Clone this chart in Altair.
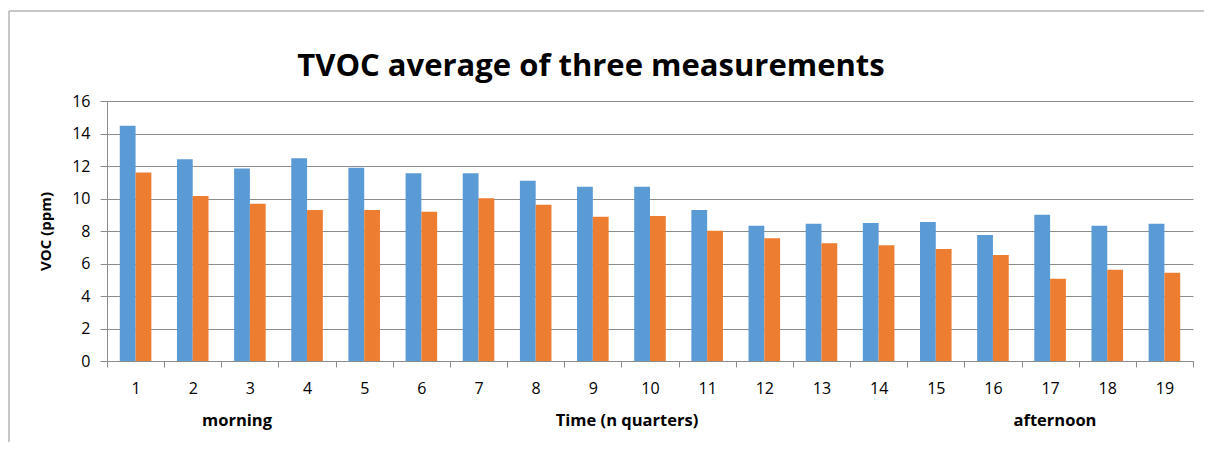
import altair as alt
import pandas as pd

categories = ["1", "2", "3", "4", "5", "6", "7", "8", "9", "10",
              "11", "12", "13", "14", "15", "16", "17", "18", "19"]
series_a = [14.47, 12.42, 11.84, 12.48, 11.90, 11.56, 11.56, 11.10, 10.72, 10.72,
            9.30, 8.32, 8.44, 8.50, 8.55, 7.75, 9.00, 8.32, 8.44]
series_b = [11.60, 10.16, 9.67, 9.30, 9.30, 9.18, 10.02, 9.61, 8.87, 8.93,
            8.01, 7.56, 7.25, 7.13, 6.89, 6.52, 5.06, 5.61, 5.43]
series_names = ["Series1", "Series2"]
series_colors = ["#5B9BD5", "#ED7D31"]
y_ticks = [0, 2, 4, 6, 8, 10, 12, 14, 16]
title_text = "TVOC average of three measurements"

rows = []
for c, a, b in zip(categories, series_a, series_b):
    rows.append({"quarter": c, "series": series_names[0], "voc": a})
    rows.append({"quarter": c, "series": series_names[1], "voc": b})
df = pd.DataFrame(rows)

FONT = "Open Sans"
GRID = "#8c8c8c"
FRAME = "#b4b4b4"

bars = alt.Chart(df).mark_bar().encode(
    x=alt.X("quarter:N", sort=categories,
            scale=alt.Scale(paddingInner=0, paddingOuter=0),
            axis=alt.Axis(title=None, labelAngle=0, tickBand="extent",
                          tickSize=6, tickColor=GRID, domainColor=GRID,
                          labelPadding=13, labelFontSize=16, labelFont=FONT,
                          labelColor="#000000", grid=False)),
    xOffset=alt.XOffset("series:N", sort=series_names,
                        scale=alt.Scale(paddingInner=0, paddingOuter=0.81)),
    y=alt.Y("voc:Q", scale=alt.Scale(domain=[0, 16], nice=False),
            axis=alt.Axis(values=y_ticks, title="VOC (ppm)", tickSize=7,
                          tickColor=GRID, domainColor=GRID, gridColor=GRID,
                          labelPadding=10, labelFontSize=16, labelFont=FONT,
                          labelColor="#000000", titleFont=FONT, titleFontSize=15,
                          titleFontWeight="bold", titleColor="#000000",
                          titleAngle=-90, titleX=-62, titleY=130,
                          titleBaseline="middle", titleAlign="center")),
    color=alt.Color("series:N", sort=series_names,
                    scale=alt.Scale(domain=series_names, range=series_colors),
                    legend=None),
)

def note(text, px, py, size):
    return alt.Chart(pd.DataFrame({"t": [text]})).mark_text(
        font=FONT, fontSize=size, fontWeight="bold", color="#000000",
        align="center", baseline="alphabetic"
    ).encode(x=alt.value(px), y=alt.value(py), text="t:N")

one = pd.DataFrame({"f": [0]})
frame_top = alt.Chart(one).mark_rule(color=FRAME, strokeWidth=1.5).encode(
    x=alt.value(-98), x2=alt.value(1150), y=alt.value(-90))
frame_left = alt.Chart(one).mark_rule(color=FRAME, strokeWidth=1.5).encode(
    x=alt.value(-98), y=alt.value(-90), y2=alt.value(345))

chart = alt.layer(
    frame_top, frame_left, bars,
    note(title_text, 484, -25, 31),
    note("morning", 130, 325, 16.5),
    note("Time (n quarters)", 520, 325, 16.5),
    note("afternoon", 948, 325, 16.5),
).properties(
    width=1086, height=260,
    autosize=alt.AutoSizeParams(type="none"),
    padding={"left": 99, "top": 93, "right": 11, "bottom": 81},
).configure_view(stroke=None).configure_axis(gridWidth=1, domainWidth=1)

chart.save("out.html", embed_options={"renderer": "svg", "actions": False})
